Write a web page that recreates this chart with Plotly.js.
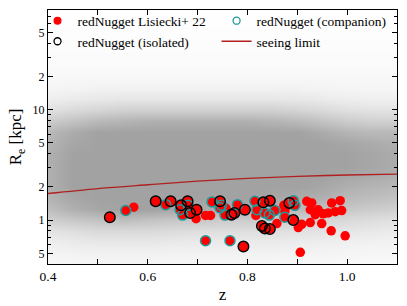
<!DOCTYPE html>
<html>
<head>
<meta charset="utf-8">
<script src="https://cdn.plot.ly/plotly-3.0.1.min.js"></script>
<style>html,body{margin:0;padding:0;background:#fff;}#chart{width:407px;height:306px;}</style>
</head>
<body>
<div id="chart"></div>
<script>
// ---- background galaxy cloud: density (0..10 coverage) ----
var cloudZ = [0.4,0.45,0.5,0.55,0.6,0.65,0.7,0.75,0.8,0.85,0.9,0.95,1.0,1.05,1.1];
var cloudLogR = [-0.4,-0.3,-0.2,-0.1,0.0,0.1,0.2,0.3,0.4,0.5,0.6,0.7,0.8,0.9,1.0,1.1,1.2,1.3,1.4,1.5,1.6,1.7,1.8,1.9];
var cloudDensity = [
 [0.8,0.9,1,1,1,0.9,0.9,0.9,0.9,0.9,0.8,0.8,0.7,0.6,0.6],
 [1.2,1.4,1.5,1.5,1.5,1.4,1.4,1.4,1.4,1.4,1.3,1.2,1.1,1,1],
 [1.8,2.2,2.5,2.5,2.5,2.3,2.2,2.2,2.2,2.2,2,1.8,1.6,1.5,1.4],
 [3,3.5,4,4,4,3.8,3.5,3.5,3.5,3.5,3.2,3,2.7,2.4,2.2],
 [5,6,6.5,7,6.5,6,6,5.5,5.5,5.5,5,4.5,4,3.6,3.2],
 [7,8.5,9.5,10,10,9.5,9,8.5,8.5,8,7.5,6.5,6,5.5,5],
 [8,9.5,10,10,10,10,10,10,10,9.5,9,8.5,7.5,7,6.5],
 [8.5,10,10,10,10,10,10,10,10,10,10,9.5,8.5,8,7.5],
 [8.5,10,10,10,10,10,10,10,10,10,10,10,9.5,9,8.5],
 [8.5,10,10,10,10,10,10,10,10,10,10,10,10,9.5,9],
 [8.5,10,10,10,10,10,10,10,10,10,10,10,10,9.5,9],
 [8,9.5,10,10,10,10,10,10,10,10,10,10,9.5,9,8.5],
 [7.5,9,10,10,10,10,10,10,10,10,10,9,8,7.5,7.5],
 [5.5,6.5,7.5,8,8.5,8.5,8.5,8.5,8.5,8,7.5,6.5,5.5,5,5],
 [3.2,4,4.5,5,5,5,5,5,5,5,4.6,4,3.4,3,3],
 [1.8,2.2,2.5,2.7,2.7,2.7,2.7,2.7,2.7,2.7,2.5,2.2,1.9,1.7,1.7],
 [1.1,1.2,1.4,1.4,1.4,1.4,1.4,1.4,1.4,1.4,1.4,1.2,1.1,1,1],
 [0.8,0.8,0.8,0.8,0.8,0.8,0.8,0.8,0.8,0.8,0.8,0.8,0.8,0.8,0.8],
 [0.55,0.55,0.55,0.55,0.55,0.55,0.55,0.55,0.55,0.55,0.55,0.55,0.55,0.55,0.55],
 [0.4,0.4,0.4,0.4,0.4,0.4,0.4,0.4,0.4,0.4,0.4,0.4,0.4,0.4,0.4],
 [0.3,0.3,0.3,0.3,0.3,0.3,0.3,0.3,0.3,0.3,0.3,0.3,0.3,0.3,0.3],
 [0.2,0.2,0.2,0.2,0.2,0.2,0.2,0.2,0.2,0.2,0.2,0.2,0.2,0.2,0.2],
 [0.12,0.12,0.12,0.12,0.12,0.12,0.12,0.12,0.12,0.12,0.12,0.12,0.12,0.12,0.12],
 [0.1,0.1,0.1,0.1,0.1,0.1,0.1,0.1,0.1,0.1,0.1,0.1,0.1,0.1,0.1]
];

// ---- red nuggets (Lisiecki+22) ----
var nuggetZ = [0.524,0.556,0.572,0.616,0.636,0.646,0.667,0.665,0.670,0.680,0.681,0.685,0.698,0.697,0.716,0.716,0.726,0.729,0.745,0.748,0.745,0.755,0.765,0.768,0.774,0.780,0.795,0.792,0.815,0.819,0.817,0.832,0.835,0.845,0.844,0.829,0.835,0.845,0.855,0.859,0.873,0.875,0.884,0.892,0.895,0.892,0.902,0.909,0.906,0.919,0.929,0.926,0.936,0.926,0.949,0.952,0.962,0.969,0.976,0.986,0.989,0.968,0.996,0.942,0.875,0.757,0.877];
var nuggetR = [1.06,1.22,1.31,1.48,1.38,1.48,1.36,1.24,1.11,1.48,1.36,1.16,1.24,1.03,1.10,0.65,1.10,1.46,1.48,1.36,1.29,1.11,0.65,1.12,1.16,1.38,1.24,0.575,1.48,1.24,1.10,1.45,1.16,1.50,1.11,0.885,0.84,0.83,1.22,0.93,1.36,1.06,1.43,1.50,1.36,1.00,0.855,0.915,0.51,1.48,1.43,1.24,1.12,0.95,0.93,1.14,1.16,1.43,1.19,1.50,1.22,0.80,0.72,1.24,1.20,1.28,1.31];

// ---- companion nuggets ----
var compZ = [0.556,0.636,0.665,0.670,0.681,0.716,0.729,0.748,0.745,0.755,0.765,0.780,0.815,0.819,0.835,0.844,0.855,0.875,0.892,0.895];
var compR = [1.22,1.38,1.24,1.11,1.36,0.65,1.46,1.36,1.29,1.11,0.65,1.38,1.48,1.24,1.16,1.11,1.22,1.06,1.50,1.36];

// ---- isolated nuggets ----
var isoZ = [0.524,0.616,0.646,0.667,0.680,0.685,0.698,0.745,0.768,0.774,0.795,0.792,0.832,0.845,0.829,0.835,0.845,0.884,0.892];
var isoR = [1.06,1.48,1.48,1.36,1.48,1.16,1.24,1.48,1.12,1.16,1.24,0.575,1.45,1.50,0.885,0.84,0.83,1.43,1.00];

// ---- seeing limit ----
var seeZ = [0.4,0.5,0.6,0.7,0.8,0.9,1.0,1.1];
var seeR = [1.74,1.93,2.09,2.25,2.39,2.49,2.56,2.61];

// ---- ticks ----
var yTickVals = [0.5,1,2,5,10,20,50];
var yTickText = ['5','1','2','5','10','2','5'];
var yMinorVals = [0.4,0.6,0.7,0.8,0.9,3,4,6,7,8,9,30,40,60,70];
var xTickVals = [0.4,0.6,0.8,1.0];
var xTickText = ['0.4','0.6','0.8','1.0'];
var xMinorVals = [0.5,0.7,0.9,1.1];

var serif = "'Liberation Serif', 'Times New Roman', serif";
var RED = '#ff0000', TEAL = '#1f9a9a', DARKRED = '#b02020';

var traces = [
 {type:'heatmap', x:cloudZ, y:cloudLogR, z:cloudDensity, xaxis:'x', yaxis:'y',
  colorscale:[[0,'#ffffff'],[1,'#a2a2a2']], zmin:0, zmax:10, zsmooth:'best',
  showscale:false, hoverinfo:'skip', showlegend:false},
 {type:'scatter', mode:'lines', x:seeZ, y:seeR, xaxis:'x', yaxis:'y2',
  line:{color:DARKRED, width:1.3, shape:'spline'}, showlegend:false},
 {type:'scatter', mode:'markers', x:nuggetZ, y:nuggetR, xaxis:'x', yaxis:'y2',
  marker:{color:RED, size:9.5, line:{width:0}}, showlegend:false},
 {type:'scatter', mode:'markers', x:compZ, y:compR, xaxis:'x', yaxis:'y2',
  marker:{color:TEAL, size:10, symbol:'circle-open', line:{color:TEAL, width:1.5}}, showlegend:false},
 {type:'scatter', mode:'markers', x:isoZ, y:isoR, xaxis:'x', yaxis:'y2',
  marker:{color:'#000', size:10.5, symbol:'circle-open', line:{color:'#000', width:1.5}}, showlegend:false},
 // legend entries
 {type:'scatter', mode:'markers', x:[null], y:[null], xaxis:'x', yaxis:'y2', name:'redNugget Lisiecki+ 22',
  legend:'legend', marker:{color:RED, size:8}},
 {type:'scatter', mode:'markers', x:[null], y:[null], xaxis:'x', yaxis:'y2', name:'redNugget (isolated)',
  legend:'legend', marker:{color:'#000', size:7, symbol:'circle-open', line:{color:'#000', width:1.3}}},
 {type:'scatter', mode:'markers', x:[null], y:[null], xaxis:'x', yaxis:'y2', name:'redNugget (companion)',
  legend:'legend2', marker:{color:TEAL, size:7, symbol:'circle-open', line:{color:TEAL, width:1.3}}},
 {type:'scatter', mode:'lines', x:[null], y:[null], xaxis:'x', yaxis:'y2', name:'seeing limit',
  legend:'legend2', line:{color:DARKRED, width:1.3}}
];

var legendFont = {family:serif, size:13.5, color:'#000'};
var layout = {
 width:407, height:306,
 margin:{l:48, r:10, t:5, b:42},
 paper_bgcolor:'#fff', plot_bgcolor:'#fff',
 font:{family:serif, size:13, color:'#000'},
 showlegend:true,
 legend:{orientation:'v', x:-0.03, y:1.018, xanchor:'left', yanchor:'top',
   bgcolor:'rgba(0,0,0,0)', font:legendFont, traceorder:'normal', itemwidth:30, tracegroupgap:0},
 legend2:{orientation:'v', x:0.483, y:1.018, xanchor:'left', yanchor:'top',
   bgcolor:'rgba(0,0,0,0)', font:legendFont, traceorder:'normal', itemwidth:30, tracegroupgap:0},
 xaxis:{range:[0.4,1.1], showgrid:false, zeroline:false, showline:true, linecolor:'#000', linewidth:1,
   mirror:'ticks', ticks:'inside', ticklen:5, tickcolor:'#000', tickvals:xTickVals, ticktext:xTickText,
   minor:{tickvals:xMinorVals, ticks:'inside', ticklen:5, tickcolor:'#000', showgrid:false},
   tickfont:{family:serif, size:13.5}, title:{text:'z', font:{family:serif, size:17}, standoff:4}},
 yaxis:{range:[Math.log10(0.4), Math.log10(80)], visible:false, showgrid:false, zeroline:false, fixedrange:true},
 yaxis2:{type:'log', range:[Math.log10(0.4), Math.log10(80)], overlaying:'y', side:'left',
   showgrid:false, zeroline:false, showline:true, linecolor:'#000', linewidth:1,
   mirror:'ticks', ticks:'inside', ticklen:5, tickcolor:'#000', tickvals:yTickVals, ticktext:yTickText,
   minor:{tickvals:yMinorVals, ticks:'inside', ticklen:3, tickcolor:'#000', showgrid:false},
   tickfont:{family:serif, size:12}, title:{text:'R<sub>e</sub> [kpc]', font:{family:serif, size:17}, standoff:6}}
};

Plotly.newPlot('chart', traces, layout, {displayModeBar:false, staticPlot:true});
</script>
</body>
</html>
